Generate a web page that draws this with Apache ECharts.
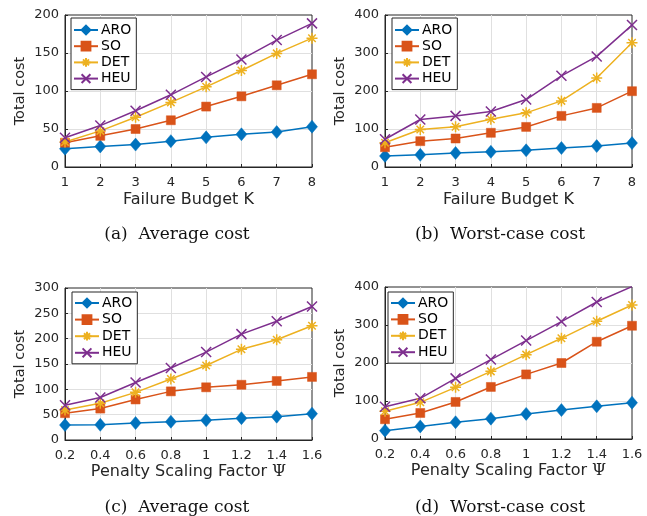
<!DOCTYPE html>
<html>
<head>
<meta charset="utf-8">
<script src="https://cdn.jsdelivr.net/npm/echarts@6/dist/echarts.min.js"></script>
<style>html,body{margin:0;padding:0;background:#fff;}#chart{width:647px;height:516px;}</style>
</head>
<body>
<div id="chart"></div>
<script>
// ---- Data ----
var kCats = ['1', '2', '3', '4', '5', '6', '7', '8'];
var psiCats = ['0.2', '0.4', '0.6', '0.8', '1', '1.2', '1.4', '1.6'];
var seriesNames = ['ARO', 'SO', 'DET', 'HEU'];

// (a) Average cost vs failure budget K
var aroA = [24, 27, 29.5, 34, 39, 43, 46, 53];
var soA  = [32, 41, 50, 61.5, 79.5, 93, 107.5, 122];
var detA = [33, 47.5, 65.5, 85, 105.5, 127, 149.5, 169.5];
var heuA = [38.5, 54.5, 74, 95, 118.5, 141.5, 167, 189];

// (b) Worst-case cost vs failure budget K
var aroB = [29, 32, 37, 40, 44, 50, 55, 63];
var soB  = [52, 68, 75, 90, 105.5, 134.5, 155.5, 199.5];
var detB = [64, 98.5, 106, 125.5, 142.5, 174, 234, 327];
var heuB = [73, 125, 134.5, 146, 177.5, 240, 291, 373.5];

// (c) Average cost vs penalty scaling factor
var aroC = [29.5, 30, 33.5, 36, 39, 43, 46, 52];
var soC  = [53, 62, 80, 96, 104, 109, 116.5, 124.5];
var detC = [59, 72.5, 94, 120.5, 147, 179, 198, 225.5];
var heuC = [68.5, 84, 113.5, 142, 173.5, 209, 234.5, 263.5];

// (d) Worst-case cost vs penalty scaling factor
var aroD = [22, 33, 44, 53.5, 66, 76, 86, 95.5];
var soD  = [52, 68.5, 97.5, 137, 170, 200, 256, 298];
var detD = [73, 96.5, 136, 178, 222, 265, 310, 352.5];
var heuD = [85, 107, 159.5, 209, 259, 309, 360.5, 401];

var yMax = [200, 400, 300, 400];
var yStep = [50, 100, 50, 100];
var captions = ['(a)  Average cost', '(b)  Worst-case cost', '(c)  Average cost', '(d)  Worst-case cost'];

// ---- Styling ----
var colors = ['#0072BD', '#D95319', '#EDB120', '#7E2F8E'];
var symbols = [
  'diamond',
  'rect',
  'path://M0,5 L10,5 M5,0 L5,10 M1.6,1.6 L8.4,8.4 M1.6,8.4 L8.4,1.6',
  'path://M0,0 L10,10 M0,10 L10,0'
];
var symSizes = [[11, 13], 9, 11, 10];
var FONT = 'DejaVu Sans';
var AX = '#262626';

var grids = [
  {left: 65, top: 15, width: 247, height: 152},
  {left: 385, top: 15, width: 247, height: 152},
  {left: 65, top: 288, width: 247, height: 152},
  {left: 385, top: 287, width: 247, height: 152}
];
grids.forEach(function (g) {
  g.show = true; g.borderColor = AX; g.borderWidth = 1; g.backgroundColor = '#fff';
});

var panelData = [
  [aroA, soA, detA, heuA],
  [aroB, soB, detB, heuB],
  [aroC, soC, detC, heuC],
  [aroD, soD, detD, heuD]
];

var xAxes = [], yAxes = [], series = [], legends = [], graphics = [];
var legendPos = [
  {left: 71, top: 18, gap: 0.2, pad: [4, 5, 3, 2]},
  {left: 392, top: 18, gap: 0.2, pad: [4, 5, 3, 2]},
  {left: 72, top: 292, gap: 0.6, pad: [3, 5, 3, 2]},
  {left: 388, top: 292, gap: 0.4, pad: [3, 5, 3, 2]}
];
var capPos = [[177, 235], [500, 235], [177, 508], [500, 508]];

for (var p = 0; p < 4; p++) {
  var isK = p < 2;
  xAxes.push({
    gridIndex: p,
    type: 'category',
    data: isK ? kCats : psiCats,
    boundaryGap: false,
    axisLine: {show: true, lineStyle: {color: AX, width: 1}},
    axisTick: {show: true, inside: true, length: 3, lineStyle: {color: AX}},
    axisLabel: {color: AX, fontFamily: FONT, fontSize: 13, margin: 9},
    splitLine: {show: true, showMinLine: false, showMaxLine: false, lineStyle: {color: '#e0e0e0', width: 1}},
    name: isK ? 'Failure Budget K' : '{n|Penalty Scaling Factor }{p|Ψ}',
    nameLocation: 'middle',
    nameGap: isK ? 25 : 24,
    nameTextStyle: isK ? {color: AX, fontFamily: FONT, fontSize: 16} : {
      color: AX, fontFamily: FONT, fontSize: 16,
      rich: {
        n: {color: AX, fontFamily: FONT, fontSize: 16},
        p: {color: AX, fontFamily: 'DejaVu Serif', fontSize: 16}
      }
    }
  });
  yAxes.push({
    gridIndex: p,
    type: 'value',
    min: 0,
    max: yMax[p],
    interval: yStep[p],
    axisLine: {show: true, lineStyle: {color: AX, width: 1}},
    axisTick: {show: true, inside: true, length: 3, lineStyle: {color: AX}},
    axisLabel: {color: AX, fontFamily: FONT, fontSize: 13, margin: 6},
    splitLine: {show: true, showMinLine: false, showMaxLine: false, lineStyle: {color: '#e0e0e0', width: 1}},
    name: 'Total cost',
    nameLocation: 'middle',
    nameGap: 37,
    nameTextStyle: {color: AX, fontFamily: FONT, fontSize: 14.5}
  });
  for (var s = 0; s < 4; s++) {
    series.push({
      type: 'line',
      name: seriesNames[s],
      xAxisIndex: p,
      yAxisIndex: p,
      data: panelData[p][s],
      symbol: symbols[s],
      symbolSize: symSizes[s],
      showAllSymbol: true,
      lineStyle: {color: colors[s], width: 1.5},
      itemStyle: {color: colors[s], borderColor: colors[s], borderWidth: s >= 2 ? 1.5 : 0.5, opacity: 1},
      emphasis: {disabled: true},
      animation: false
    });
  }
  legends.push({
    orient: 'vertical',
    left: legendPos[p].left,
    top: legendPos[p].top,
    data: seriesNames,
    itemWidth: 24,
    itemHeight: 11,
    itemGap: legendPos[p].gap,
    padding: legendPos[p].pad,
    borderColor: AX,
    borderWidth: 1,
    backgroundColor: '#fff',
    textStyle: {color: '#000', fontFamily: FONT, fontSize: 14, lineHeight: 16, padding: [0, 0, 0, -2]},
    selectedMode: false
  });
  graphics.push({
    type: 'text',
    x: capPos[p][0],
    y: capPos[p][1],
    style: {
      text: captions[p],
      fill: '#111',
      font: '17px "DejaVu Serif"',
      textAlign: 'center',
      textVerticalAlign: 'middle'
    }
  });
}

var chart = echarts.init(document.getElementById('chart'), null, {renderer: 'canvas'});
chart.setOption({
  animation: false,
  backgroundColor: '#fff',
  grid: grids,
  xAxis: xAxes,
  yAxis: yAxes,
  legend: legends,
  series: series,
  graphic: graphics
});
</script>
</body>
</html>
